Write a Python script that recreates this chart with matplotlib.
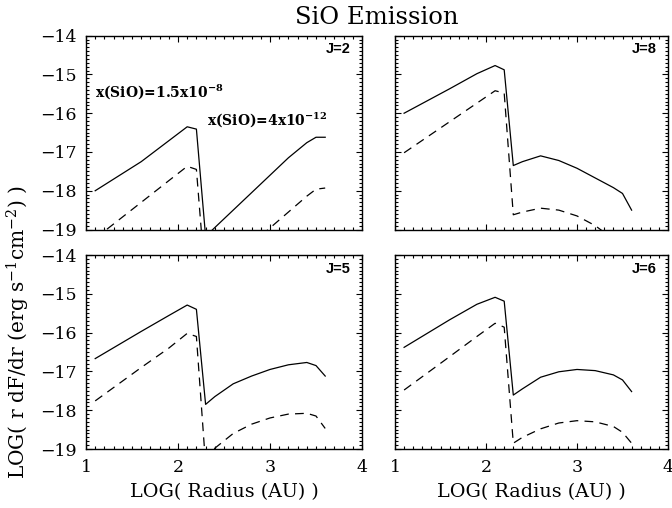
import numpy as np
import matplotlib
matplotlib.use("Agg")
import matplotlib.pyplot as plt
from matplotlib.ticker import MultipleLocator

# log radius grid (AU) shared by all model curves
log_r = [1.1, 1.6, 1.9, 2.1, 2.2, 2.3, 2.4, 2.6, 2.8, 3.0, 3.2, 3.4, 3.5, 3.6]

# LOG( r dF/dr ) for each transition: solid = full model, dashed = comparison model
j2_solid = [-18.0, -17.25, -16.71, -16.35, -16.41, -19.18, -18.95, -18.5, -18.05, -17.6, -17.15, -16.76, -16.62, -16.62]
j2_dash = [-19.23, -18.30, -17.74, -17.37, -17.45, -20.4, -20.19, -19.78, -19.37, -18.96, -18.55, -18.14, -17.96, -17.93]

j8_solid = [-16.0, -15.37, -14.98, -14.77, -14.88, -17.35, -17.25, -17.1, -17.22, -17.42, -17.67, -17.92, -18.07, -18.5]
j8_dash = [-17.02, -16.22, -15.74, -15.42, -15.48, -18.62, -18.55, -18.45, -18.5, -18.65, -18.9, -19.25, -19.45, -19.8]

j5_solid = [-16.67, -15.97, -15.56, -15.29, -15.40, -17.85, -17.65, -17.32, -17.12, -16.95, -16.83, -16.77, -16.85, -17.12]
j5_dash = [-17.76, -16.9, -16.4, -16.02, -16.1, -19.4, -18.98, -18.6, -18.36, -18.2, -18.1, -18.08, -18.15, -18.47]

j6_solid = [-16.38, -15.67, -15.27, -15.09, -15.19, -17.61, -17.45, -17.15, -17.01, -16.95, -16.98, -17.09, -17.22, -17.52]
j6_dash = [-17.48, -16.62, -16.10, -15.76, -15.86, -18.85, -18.7, -18.48, -18.33, -18.27, -18.3, -18.42, -18.57, -18.85]

panel_names = ["J=2", "J=8", "J=5", "J=6"]
x_ticks = [1, 2, 3, 4]
y_ticks = [-14, -15, -16, -17, -18, -19]

plt.rcParams["font.family"] = ["DejaVu Serif"]
plt.rcParams["mathtext.fontset"] = "dejavuserif"

W, H = 672, 508
fig = plt.figure(figsize=(W / 100, H / 100), dpi=100)

def px_axes(x0, y0, x1, y1):
    return fig.add_axes([x0 / W, 1 - y1 / H, (x1 - x0) / W, (y1 - y0) / H])

ax_j2 = px_axes(86, 35.7, 362, 229.5)
ax_j8 = px_axes(395, 35.7, 668, 229.5)
ax_j5 = px_axes(86, 255, 362, 449)
ax_j6 = px_axes(395, 255, 668, 449)

panels = [
    (ax_j2, j2_solid, j2_dash),
    (ax_j8, j8_solid, j8_dash),
    (ax_j5, j5_solid, j5_dash),
    (ax_j6, j6_solid, j6_dash),
]

for i, (ax, solid, dash) in enumerate(panels):
    ax.plot(log_r, solid, color="black", lw=0.9)
    ax.plot(log_r, dash, color="black", lw=0.9, linestyle=(0, (7, 5)))
    ax.set_xlim(1, 4)
    ax.set_ylim(-19, -14)
    ax.xaxis.set_major_locator(MultipleLocator(1))
    ax.xaxis.set_minor_locator(MultipleLocator(0.1))
    ax.yaxis.set_major_locator(MultipleLocator(1))
    ax.yaxis.set_minor_locator(MultipleLocator(0.1))
    ax.tick_params(which="both", direction="in", top=True, right=True, width=0.8)
    ax.tick_params(which="major", length=4.5, labelsize=12.5, pad=7)
    ax.tick_params(which="minor", length=2)
    for sp in ax.spines.values():
        sp.set_linewidth(1.0)
    ax.text(0.96, 0.93, panel_names[i], transform=ax.transAxes, ha="right", va="center",
            fontsize=10.5, fontweight="bold", family="Liberation Sans")
    if i % 2 == 0:
        ax.set_yticks(y_ticks)
        ax.set_yticklabels([f"\u2212{abs(v)}" for v in y_ticks])
    else:
        ax.set_yticklabels([])
    if i >= 2:
        ax.set_xticks(x_ticks)
        ax.set_xticklabels([str(v) for v in x_ticks])
        ax.set_xlabel("LOG( Radius (AU) )", fontsize=13.8, labelpad=5)
    else:
        ax.set_xticklabels([])

ax_j2.text(1.1, -15.45, r"x(SiO)=1.5x10$^{\mathbf{-8}}$", fontsize=10, fontweight="bold", va="center")
ax_j2.text(2.31, -16.15, r"x(SiO)=4x10$^{\mathbf{-12}}$", fontsize=10, fontweight="bold", va="center")

fig.text(377 / W, 1 - 17 / H, "SiO Emission", ha="center", va="center", fontsize=17.5)
fig.text(18 / W, 1 - 332 / H, r"LOG( r dF/dr (erg s$^{-1}$cm$^{-2}$) )", rotation=90,
         ha="center", va="center", fontsize=14.5)

fig.savefig("out.png", dpi=100)
